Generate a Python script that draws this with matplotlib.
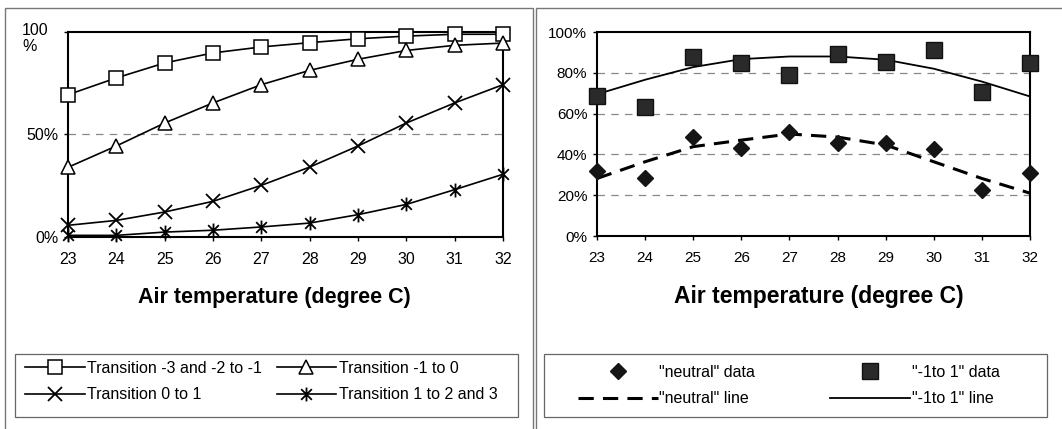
import matplotlib
matplotlib.use("Agg")
import matplotlib.pyplot as plt
from matplotlib.path import Path
from matplotlib.patches import Rectangle
from matplotlib.lines import Line2D
from matplotlib.ticker import FuncFormatter

plt.rcParams['font.family'] = ['Liberation Sans', 'DejaVu Sans']

temps = [23, 24, 25, 26, 27, 28, 29, 30, 31, 32]

# Left panel: transition probabilities (%)
trans_m3_m2_to_m1 = [69.4, 77.6, 84.9, 89.8, 92.7, 94.8, 96.7, 98.0, 98.9, 98.9]
trans_m1_to_0 = [34.0, 44.4, 55.6, 65.4, 74.3, 81.3, 86.7, 91.0, 93.5, 94.6]
trans_0_to_1 = [5.7, 8.1, 12.2, 17.4, 25.2, 34.1, 44.4, 55.6, 65.4, 74.3]
trans_1_to_2_3 = [0.8, 0.8, 2.4, 3.3, 4.9, 6.8, 10.9, 15.9, 23.1, 30.6]
left_labels = ["Transition -3 and -2 to -1", "Transition -1 to 0",
               "Transition 0 to 1", "Transition 1 to 2 and 3"]

# Right panel (%)
neutral_data = [31.8, 28.5, 48.4, 43.3, 50.8, 45.4, 45.7, 42.5, 22.5, 30.7]
neutral_line = [28.2, 36.4, 43.8, 47.0, 50.0, 48.5, 44.6, 36.4, 28.2, 21.0]
m1to1_data = [68.7, 63.4, 87.7, 84.8, 78.7, 89.3, 85.2, 91.0, 70.8, 84.8]
m1to1_line = [69.5, 76.6, 82.8, 86.7, 88.0, 88.0, 86.4, 82.0, 75.7, 68.4]
right_labels = ['"neutral" data', '"-1to 1" data', '"neutral" line', '"-1to 1" line']

W, H = 1062, 429
fig = plt.figure(figsize=(W / 100, H / 100), dpi=100)

def fx(px):
    return px / W

def fy(py):
    return 1 - py / H

def frame(x0, y0, x1, y1, color='#777777', lw=1.0):
    fig.patches.append(Rectangle((fx(x0), fy(y1)), fx(x1 - x0), (y1 - y0) / H,
                                 transform=fig.transFigure, fill=False,
                                 edgecolor=color, linewidth=lw))

# panel borders
frame(5, 8, 533, 440)
frame(536, 8, 1075, 440)
# legend boxes
frame(15, 354, 518, 417, color='#666666', lw=0.9)
frame(544, 354, 1047, 417, color='#666666', lw=0.9)

# custom asterisk marker: x plus vertical bar
star_path = Path([(-1, -1), (1, 1), (-1, 1), (1, -1), (0, -1.3), (0, 1.3)],
                 [Path.MOVETO, Path.LINETO, Path.MOVETO, Path.LINETO, Path.MOVETO, Path.LINETO])

axL = fig.add_axes([fx(68), fy(237), fx(503 - 68), (237 - 32) / H])
axR = fig.add_axes([fx(597), fy(236), fx(1030 - 597), (236 - 32) / H])

lw = 1.2
h1, = axL.plot(temps, trans_m3_m2_to_m1, color='black', lw=lw, marker='s', ms=10,
               mfc='white', mec='black', mew=1.1, clip_on=False, zorder=3)
h2, = axL.plot(temps, trans_m1_to_0, color='black', lw=lw, marker='^', ms=10,
               mfc='white', mec='black', mew=1.1, clip_on=False, zorder=3)
h3, = axL.plot(temps, trans_0_to_1, color='black', lw=lw, marker='x', ms=10,
               mec='black', mew=1.3, clip_on=False, zorder=3)
h4, = axL.plot(temps, trans_1_to_2_3, color='black', lw=lw, marker=star_path, ms=10,
               mec='black', mew=1.3, clip_on=False, zorder=3)

axL.set_xlim(23, 32)
axL.set_ylim(0, 100)
axL.set_xticks(temps)
axL.set_yticks([0, 50, 100])
axL.set_yticklabels(['0%', '50%', ''])
axL.axhline(50, color='#888888', lw=0.9, ls=(0, (6, 5)), zorder=1)
fig.text(fx(22), fy(23), '100\n%', ha='left', va='top', fontsize=11.5,
         linespacing=1.05, multialignment='left')

axR.plot(temps, m1to1_line, color='black', lw=1.3, zorder=2)
axR.plot(temps, neutral_line, color='black', lw=2.2, ls=(0, (5, 3)), zorder=2)
axR.plot(temps, m1to1_data, ls='none', marker='s', ms=11, mfc='#2a2a2a',
         mec='#111111', clip_on=False, zorder=3)
axR.plot(temps, neutral_data, ls='none', marker='D', ms=8, mfc='#151515',
         mec='#151515', clip_on=False, zorder=3)
axR.set_xlim(23, 32)
axR.set_ylim(0, 100)
axR.set_xticks(temps)
axR.set_yticks([0, 20, 40, 60, 80, 100])
axR.yaxis.set_major_formatter(FuncFormatter(lambda v, p: f"{int(v)}%"))
for g in [20, 40, 60, 80]:
    axR.axhline(g, color='#888888', lw=0.9, ls=(0, (6, 5)), zorder=1)

for ax, fs, lfs in ((axL, 11.5, 15.5), (axR, 11, 16.5)):
    for s in ax.spines.values():
        s.set_linewidth(1.5)
        s.set_color('black')
    ax.tick_params(axis='both', labelsize=fs, length=3, width=1, direction='out',
                   colors='black')
    ax.tick_params(axis='x', pad=8)
    ax.tick_params(axis='y', pad=4)
    ax.set_xlabel('Air temperature (degree C)', fontsize=lfs, fontweight='bold')
    ax.set_facecolor('white')

axL.xaxis.set_label_coords((274 - 68) / 435, (237 - 297) / 205)
axR.xaxis.set_label_coords((818.5 - 597) / 433, (236 - 297) / 204)
axL.xaxis.label.set_va('center')
axR.xaxis.label.set_va('center')

# Left legend (column-major order so rows read: square, triangle / x, star)
legL = fig.legend([h1, h3, h2, h4], [left_labels[0], left_labels[2],
                                      left_labels[1], left_labels[3]],
                  ncols=2, loc='center left', bbox_to_anchor=(fx(25), fy(381.5)),
                  fontsize=11.5, frameon=False, handlelength=3.75,
                  handletextpad=0.15, borderaxespad=0, borderpad=0,
                  labelspacing=0.7, columnspacing=0.9)

rh1 = Line2D([], [], ls='none', marker='D', ms=8, mfc='#151515', mec='#151515')
rh2 = Line2D([], [], ls='none', marker='s', ms=11, mfc='#2a2a2a', mec='#111111')
rh3 = Line2D([], [], color='black', lw=2.2, ls=(0, (5, 3)))
rh4 = Line2D([], [], color='black', lw=1.3)
legR = fig.legend([rh1, rh3, rh2, rh4], [right_labels[0], right_labels[2],
                                          right_labels[1], right_labels[3]],
                  ncols=2, loc='center left', bbox_to_anchor=(fx(578), fy(385.5)),
                  fontsize=11.5, frameon=False, handlelength=5.0,
                  handletextpad=0.1, borderaxespad=0, borderpad=0,
                  labelspacing=0.7, columnspacing=4.7)

fig.savefig('out.png', dpi=100, facecolor='white')
